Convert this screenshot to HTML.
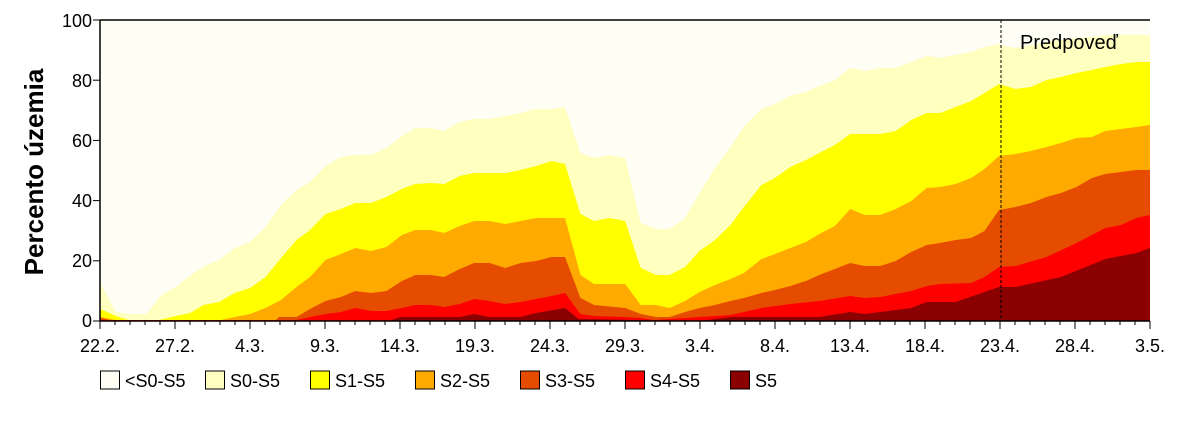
<!DOCTYPE html>
<html><head><meta charset="utf-8"><style>
body{margin:0;background:#fff;width:1200px;height:430px;overflow:hidden}
text{font-family:"Liberation Sans","DejaVu Sans",sans-serif}
</style></head><body>
<svg id="s" width="1200" height="430" xmlns="http://www.w3.org/2000/svg">
<rect x="100" y="20" width="1050" height="301" fill="#fefef4"/>
<g id="layers"></g>
<line x1="1001" y1="20" x2="1001" y2="321" stroke="#000" stroke-width="1" stroke-dasharray="3,2"/>
<text x="1020" y="49" font-size="20">Predpoveď</text>
<g id="axes" stroke="#000" stroke-width="1.5" fill="none">
<polyline points="100,20 1150,20"/>
<line x1="100" y1="20" x2="100" y2="321"/>
<line x1="100" y1="321" x2="1150" y2="321"/>
</g>
<g id="ticks" stroke="#000" stroke-width="1"></g>
<g font-size="18" text-anchor="end">
<text x="92" y="27">100</text><text x="92" y="87">80</text><text x="92" y="147">60</text>
<text x="92" y="207">40</text><text x="92" y="267">20</text><text x="92" y="327">0</text>
</g>
<g font-size="18" text-anchor="middle">
<text x="100" y="352">22.2.</text><text x="175" y="352">27.2.</text><text x="250" y="352">4.3.</text>
<text x="325" y="352">9.3.</text><text x="400" y="352">14.3.</text><text x="475" y="352">19.3.</text>
<text x="550" y="352">24.3.</text><text x="625" y="352">29.3.</text><text x="700" y="352">3.4.</text>
<text x="775" y="352">8.4.</text><text x="850" y="352">13.4.</text><text x="925" y="352">18.4.</text>
<text x="1000" y="352">23.4.</text><text x="1075" y="352">28.4.</text><text x="1150" y="352">3.5.</text>
</g>
<text transform="translate(43,172) rotate(-90)" font-size="26" font-weight="bold" text-anchor="middle">Percento územia</text>
<g font-size="18" stroke-width="1">
<rect x="100.5" y="371" width="19" height="18" fill="#fefef4" stroke="#000"/><text x="125" y="387">&lt;S0-S5</text>
<rect x="205.5" y="371" width="19" height="18" fill="#ffffc0" stroke="#000"/><text x="230" y="387">S0-S5</text>
<rect x="310.5" y="371" width="19" height="18" fill="#ffff00" stroke="#000"/><text x="335" y="387">S1-S5</text>
<rect x="415.5" y="371" width="19" height="18" fill="#ffaa00" stroke="#000"/><text x="440" y="387">S2-S5</text>
<rect x="520.5" y="371" width="19" height="18" fill="#e64c00" stroke="#000"/><text x="545" y="387">S3-S5</text>
<rect x="625.5" y="371" width="19" height="18" fill="#ff0000" stroke="#000"/><text x="650" y="387">S4-S5</text>
<rect x="730.5" y="371" width="19" height="18" fill="#8b0000" stroke="#000"/><text x="755" y="387">S5</text>
</g>
</svg>
<script>
var L=[
["#ffffc0",
[[100,283],[115,312],[128,314],[145,314],[158,296],[173,287],[190,273],[203,265],[215,260],[230,248],[245,242],[260,227],[275,205],[290,190],[303,182],[318,166],[333,157],[347,155],[362,155],[377,148],[392,136],[405,128],[420,128],[433,131],[448,122],[462,119],[477,119],[492,116],[507,113],[522,109],[537,109],[550,107],[565,153],[578,158],[593,155],[607,157]],
[[620,157],[625,158],[640,223],[655,229],[668,229],[683,218],[697,193],[712,168],[727,147],[740,127],[757,109],[770,104],[785,96],[800,92],[813,86],[828,80],[843,68],[857,71],[872,68],[887,68],[902,62],[917,56],[930,58],[945,55],[960,52],[973,47],[987,44],[988,45],[1003,48],[1018,45],[1033,42],[1047,40],[1062,38],[1077,37],[1090,35],[1105,35],[1133,35]]],
["#ffff00",
[[100,309],[115,316],[127,320],[157,320],[173,316],[187,313],[200,305],[215,302],[230,293],[245,288],[260,277],[275,258],[290,240],[303,230],[318,214],[333,209],[347,203],[362,203],[377,197],[392,189],[405,184],[420,183],[433,184],[448,176],[462,173],[493,173],[507,170],[522,166],[537,161],[550,164],[565,214],[578,221],[593,218],[607,221],[613,237]],
[[625,221],[640,268],[655,275],[668,275],[683,267],[697,251],[712,240],[727,225],[740,207],[757,185],[770,178],[785,167],[800,160],[813,153],[828,145],[843,134],[872,134],[887,131],[902,120],[917,113],[930,113],[945,107],[960,101],[973,93],[987,84],[1003,89],[1018,87],[1033,80],[1047,77],[1062,73],[1077,70],[1090,67],[1105,64],[1120,62],[1133,62]]],
["#ffaa00",
[[100,317],[110,319],[115,320],[217,320],[230,317],[245,314],[260,308],[275,300],[290,287],[303,277],[318,260],[333,254],[347,248],[362,251],[377,247],[392,235],[405,230],[420,230],[433,233],[448,226],[462,221],[477,221],[492,224],[507,221],[522,218],[550,218],[565,275],[578,284],[607,284],[613,289]],
[[625,284],[640,305],[655,305],[668,308],[683,301],[697,292],[712,285],[727,279],[740,273],[757,259],[770,254],[785,248],[800,242],[813,234],[828,226],[843,209],[857,215],[872,215],[887,209],[902,201],[917,188],[930,187],[945,184],[960,178],[973,169],[987,156],[1003,154],[1018,151],[1033,147],[1047,143],[1062,138],[1077,137],[1090,131],[1105,129],[1120,127],[1133,125]]],
["#e64c00",
[[100,318],[110,320],[270,320],[273,317],[290,317],[303,309],[318,301],[333,297],[347,291],[362,293],[377,291],[392,281],[405,275],[420,275],[433,277],[448,269],[462,263],[477,263],[492,268],[507,263],[522,261],[537,257],[550,257],[565,298],[578,305],[607,305],[613,310]],
[[625,308],[640,314],[655,317],[668,317],[683,312],[697,308],[712,305],[727,301],[740,298],[757,293],[770,290],[785,286],[800,281],[813,275],[828,269],[843,263],[857,266],[872,266],[887,261],[902,252],[917,245],[930,243],[945,240],[960,238],[973,231],[987,210],[1003,207],[1018,203],[1033,197],[1047,193],[1062,187],[1077,178],[1090,174],[1105,172],[1120,170],[1133,170]]],
["#ff0000",
[[100,320],[290,320],[303,317],[318,314],[333,312],[347,308],[362,311],[377,311],[392,308],[405,305],[420,305],[433,307],[448,304],[462,299],[477,301],[492,304],[507,302],[537,296],[550,293],[565,314],[578,316],[607,316],[613,318]],
[[625,317],[640,318],[653,320],[683,318],[697,317],[727,315],[740,312],[757,308],[785,304],[813,301],[843,296],[857,298],[872,297],[902,291],[917,286],[930,284],[960,283],[973,277],[987,267],[1003,266],[1033,257],[1062,243],[1090,228],[1105,225],[1120,218],[1133,215]]],
["#8b0000",
[[100,321],[380,321],[390,317],[448,317],[462,314],[477,317],[507,317],[522,313],[550,308],[563,319],[613,321]],
[[697,321],[727,317],[740,317],[813,317],[843,312],[857,314],[887,310],[902,308],[917,302],[945,302],[973,292],[987,287],[1003,287],[1047,277],[1090,259],[1120,253],[1133,248]]]
];
var k=1.0327,g=document.getElementById('layers'),ns='http://www.w3.org/2000/svg';
L.forEach(function(l){
 var pts=[];
 l[1].forEach(function(p){var x=90+(p[0]-90)*k;if(x<=621)pts.push([x,p[1]]);});
 l[2].forEach(function(p){var x=620+(p[0]-620)*k;if(x>621)pts.push([x,p[1]]);});
 pts.push([1150,pts[pts.length-1][1]]);
 var s=pts.map(function(p){return p[0].toFixed(1)+','+p[1];}).join(' ');
 s+=' 1150,321 100,321';
 var e=document.createElementNS(ns,'polygon');e.setAttribute('points',s);e.setAttribute('fill',l[0]);
 g.appendChild(e);
});
var t=document.getElementById('ticks'),h='';
for(var d=0;d<=70;d++){var x=100+d*15,len=(d%5==0)?8:4;h+='<line x1="'+x+'" y1="321" x2="'+x+'" y2="'+(321+len)+'"/>';}
for(var v=0;v<=5;v++){var y=321-v*60.2;h+='<line x1="93" y1="'+y+'" x2="100" y2="'+y+'"/>';}
t.innerHTML=h;
</script>
</body></html>
